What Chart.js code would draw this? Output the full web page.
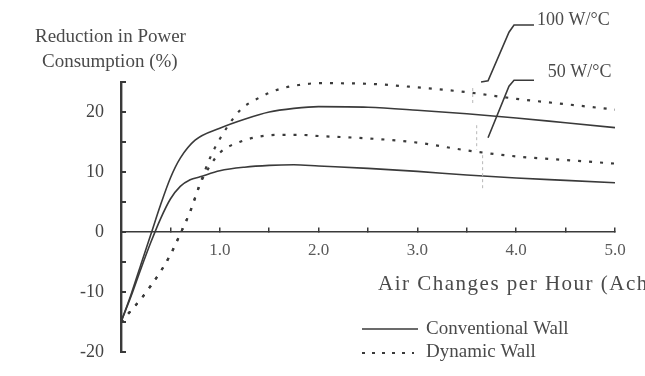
<!DOCTYPE html>
<html lang="en">
<head>
    <meta charset="UTF-8">
    <title>Reduction in Power Consumption</title>
    <script src="https://cdn.jsdelivr.net/npm/chart.js"></script>
    <style>
        body { margin: 0; background: #fff; }
        .chart-container { width: 645px; height: 376px; }
    </style>
</head>
<body>
    <div class="chart-container">
        <canvas id="chart1"></canvas>
    </div>
    <script>
        // Values (x = air changes per hour, y = % reduction)
        const conv100X = [0, 0.1, 0.2, 0.3, 0.4, 0.5, 0.6, 0.75, 1.0, 1.25, 1.5, 1.75, 2.0, 2.5, 3.0, 3.5, 4.0, 4.5, 5.0];
        const conv100Y = [-15, -10.5, -5.5, -0.5, 4.5, 9, 12.3, 15.3, 17.3, 18.8, 20, 20.6, 20.9, 20.8, 20.3, 19.7, 19.0, 18.2, 17.4];

        const conv50X = [0, 0.1, 0.2, 0.3, 0.4, 0.5, 0.6, 0.7, 0.8, 1.0, 1.25, 1.5, 1.75, 2.0, 2.5, 3.0, 3.5, 4.0, 4.5, 5.0];
        const conv50Y = [-15, -10.8, -6.2, -1.8, 2.2, 5.5, 7.6, 8.7, 9.2, 10.2, 10.8, 11.1, 11.2, 11.0, 10.6, 10.1, 9.5, 9.0, 8.6, 8.2];

        const dyn100X = [0, 0.1, 0.2, 0.3, 0.4, 0.5, 0.6, 0.7, 0.8, 0.9, 1.0, 1.2, 1.4, 1.6, 1.8, 2.0, 2.5, 3.0, 3.5, 4.0, 4.5, 5.0];
        const dyn100Y = [-15, -13.1, -11.2, -9.0, -6.6, -3.8, -0.3, 3.4, 8.0, 12.3, 15.5, 20.2, 22.4, 23.8, 24.5, 24.8, 24.7, 24.1, 23.3, 22.2, 21.3, 20.4];

        const dyn50X = [0, 0.1, 0.2, 0.3, 0.4, 0.5, 0.6, 0.7, 0.8, 0.9, 1.0, 1.2, 1.4, 1.6, 1.8, 2.0, 2.5, 3.0, 3.5, 4.0, 4.5, 5.0];
        const dyn50Y = [-15, -13.1, -11.2, -9.0, -6.6, -3.8, -0.3, 3.4, 8.0, 11.0, 13.2, 15.0, 15.9, 16.2, 16.2, 16.0, 15.6, 14.9, 13.6, 12.6, 12.0, 11.4];

        // Axis ticks
        const xTicks = [0, 0.5, 1.0, 1.5, 2.0, 2.5, 3.0, 3.5, 4.0, 4.5, 5.0];
        const yTicks = [-20, -15, -10, -5, 0, 5, 10, 15, 20, 25];

        // Text
        const yTitle = ["Reduction in Power", "Consumption (%)"];
        const xTitle = "Air Changes per Hour (Ach)";
        const legendLabels = ["Conventional Wall", "Dynamic Wall"];
        const noteLabels = ["100 W/°C", "50 W/°C"];

        const INK = "#3a3a3a";
        const FONT = "'Liberation Serif', serif";

        function pts(xs, ys) {
            return xs.map((x, i) => ({ x: x, y: ys[i] }));
        }

        // Leader lines for the two labels, in chart units
        const leaders = [
            { label: noteLabels[0], path: [[3.644, 25.0], [3.715, 25.2], [3.927, 33.3], [3.978, 34.5], [4.18, 34.5]], text: [4.21, 35.3] },
            { label: noteLabels[1], path: [[3.715, 15.7], [3.927, 24.3], [3.978, 25.3], [4.18, 25.3]], text: [4.32, 26.7] }
        ];
        // faint bracket marks between the curves
        const brackets = [[3.56, 24.0, 21.0], [3.60, 17.8, 13.7], [3.66, 12.8, 7.3]];

        const decorPlugin = {
            id: "decor",
            afterDraw(chart) {
                const ctx = chart.ctx;
                const xs = chart.scales.x, ys = chart.scales.y;
                ctx.save();

                // y axis title
                ctx.fillStyle = "#4a4a4a";
                ctx.font = "19px " + FONT;
                ctx.textBaseline = "middle";
                ctx.textAlign = "left";
                ctx.fillText(yTitle[0], 35, 37);
                ctx.fillText(yTitle[1], 42, 62);

                // x axis title (runs off the right edge, as in the source figure)
                ctx.font = "21px " + FONT;
                ctx.letterSpacing = "1.5px";
                ctx.fillText(xTitle, 378, 284);
                ctx.letterSpacing = "0px";

                // brackets
                ctx.strokeStyle = "#b8b8b8";
                ctx.lineWidth = 1;
                ctx.setLineDash([3, 3]);
                brackets.forEach(b => {
                    ctx.beginPath();
                    ctx.moveTo(xs.getPixelForValue(b[0]), ys.getPixelForValue(b[1]));
                    ctx.lineTo(xs.getPixelForValue(b[0]), ys.getPixelForValue(b[2]));
                    ctx.stroke();
                });
                ctx.setLineDash([]);

                // leaders + labels
                ctx.strokeStyle = INK;
                ctx.lineWidth = 1.6;
                ctx.font = "18px " + FONT;
                leaders.forEach(l => {
                    ctx.beginPath();
                    l.path.forEach((p, i) => {
                        const px = xs.getPixelForValue(p[0]), py = ys.getPixelForValue(p[1]);
                        if (i === 0) ctx.moveTo(px, py); else ctx.lineTo(px, py);
                    });
                    ctx.stroke();
                    ctx.fillText(l.label, xs.getPixelForValue(l.text[0]), ys.getPixelForValue(l.text[1]));
                });

                // legend
                ctx.font = "19px " + FONT;
                ctx.beginPath();
                ctx.moveTo(362, 329);
                ctx.lineTo(418, 329);
                ctx.stroke();
                ctx.fillText(legendLabels[0], 426, 329);
                ctx.setLineDash([3, 7]);
                ctx.lineWidth = 2;
                ctx.beginPath();
                ctx.moveTo(362, 353);
                ctx.lineTo(414, 353);
                ctx.stroke();
                ctx.setLineDash([]);
                ctx.fillText(legendLabels[1], 426, 352);

                ctx.restore();
            }
        };

        const solid = { borderColor: INK, borderWidth: 1.6, pointRadius: 0, fill: false, cubicInterpolationMode: "monotone" };
        const dotted = { borderColor: INK, borderWidth: 2.2, borderDash: [3, 8], pointRadius: 0, fill: false, cubicInterpolationMode: "monotone" };

        const ctx = document.getElementById("chart1").getContext("2d");
        new Chart(ctx, {
            type: "line",
            data: {
                datasets: [
                    Object.assign({ label: "Conventional 100 W/°C", data: pts(conv100X, conv100Y) }, solid),
                    Object.assign({ label: "Conventional 50 W/°C", data: pts(conv50X, conv50Y) }, solid),
                    Object.assign({ label: "Dynamic 100 W/°C", data: pts(dyn100X, dyn100Y) }, dotted),
                    Object.assign({ label: "Dynamic 50 W/°C", data: pts(dyn50X, dyn50Y) }, dotted)
                ]
            },
            options: {
                responsive: true,
                maintainAspectRatio: false,
                animation: false,
                layout: { padding: { left: 0, top: 82, right: 30, bottom: 24 } },
                plugins: { legend: { display: false }, tooltip: { enabled: false } },
                scales: {
                    x: {
                        type: "linear",
                        position: { y: 0 },
                        min: 0,
                        max: 5,
                        afterBuildTicks: (s) => { s.ticks = xTicks.map(v => ({ value: v })); },
                        afterFit: (s) => { s.height = 0; },
                        ticks: {
                            color: "#5a5a5a",
                            font: { family: FONT, size: 17 },
                            padding: 13,
                            maxRotation: 0,
                            autoSkip: false,
                            callback: (v) => (v > 0 && Number.isInteger(v)) ? v.toFixed(1) : ""
                        },
                        grid: { drawOnChartArea: false, tickLength: -5, color: INK, lineWidth: 1.5 },
                        border: { color: INK, width: 1.6 }
                    },
                    y: {
                        min: -20,
                        max: 25,
                        afterBuildTicks: (s) => { s.ticks = yTicks.map(v => ({ value: v })); },
                        afterFit: (s) => { s.width = 121; s.paddingTop = 10; s.paddingBottom = 10; },
                        ticks: {
                            color: "#444",
                            font: { family: FONT, size: 18 },
                            padding: 22,
                            autoSkip: false,
                            callback: (v) => (v % 10 === 0) ? String(v) : ""
                        },
                        grid: { drawOnChartArea: false, tickLength: -5, color: INK, lineWidth: 2 },
                        border: { color: INK, width: 2.4 }
                    }
                }
            },
            plugins: [decorPlugin]
        });
    </script>
</body>
</html>
